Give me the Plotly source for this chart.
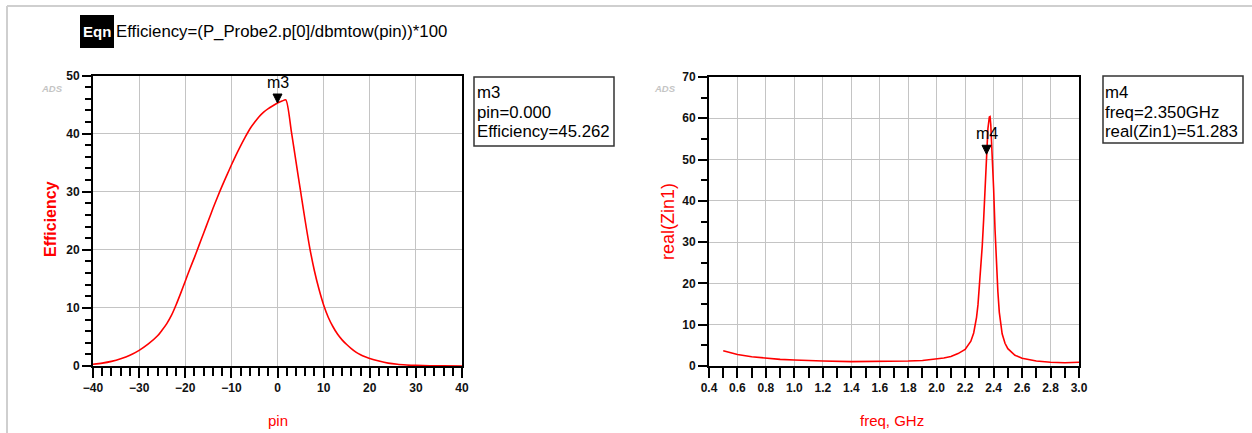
import plotly.graph_objects as go

W, H = 1252, 433

# ---------------- data ----------------
pin = [-40, -38, -36, -34, -32, -30, -28, -26, -25, -24, -23, -22, -21, -20, -19, -18, -17,
       -16, -15, -14, -13, -12, -11, -10, -9, -8, -7, -6, -5, -4, -3, -2, -1, 0, 1, 1.8,
       3, 4, 5, 6, 7, 8, 9, 10, 11, 12, 13, 14, 15, 16, 17, 18, 19, 20, 22, 24, 26, 28,
       30, 33, 36, 40]
efficiency = [0.3, 0.5, 0.8, 1.25, 1.85, 2.7, 3.8, 5.2, 6.2, 7.3, 8.7, 10.5, 12.5, 14.6,
              16.7, 18.7, 20.8, 22.9, 25.0, 27.1, 29.1, 31.0, 32.8, 34.6, 36.3, 37.9, 39.4,
              40.8, 41.9, 42.9, 43.7, 44.3, 44.8, 45.262, 45.6, 45.8,
              40.4, 35.2, 30.1, 25.0, 20.3, 16.4, 13.2, 10.5, 8.4, 6.8, 5.5, 4.5, 3.7, 3.0,
              2.4, 1.95, 1.6, 1.3, 0.85, 0.5, 0.3, 0.18, 0.1, 0.05, 0.02, 0.01]

freq = [0.5, 0.6, 0.7, 0.8, 0.9, 1.0, 1.1, 1.2, 1.4, 1.6, 1.8, 1.9, 2.0, 2.05, 2.1, 2.15,
        2.2, 2.22, 2.24, 2.26, 2.27, 2.28, 2.29, 2.30, 2.31, 2.32, 2.33, 2.34, 2.35, 2.36,
        2.37, 2.375, 2.38, 2.39, 2.40, 2.41, 2.42, 2.43, 2.44, 2.45, 2.46, 2.48, 2.50,
        2.55, 2.60, 2.70, 2.80, 2.90, 3.00]
real_zin1 = [3.7, 2.8, 2.25, 1.85, 1.6, 1.45, 1.3, 1.2, 1.05, 1.05, 1.2, 1.35, 1.65, 1.95,
             2.3, 3.0, 4.0, 4.9, 6.0, 8.0, 9.6, 11.8, 14.8, 19.0, 23.5, 29.0, 35.5, 43.0,
             51.283, 57.5, 60.3, 60.4, 58.5, 52.0, 43.0, 33.0, 24.5, 18.0, 13.0, 9.8, 7.8,
             5.5, 4.2, 2.6, 1.9, 1.2, 0.9, 0.8, 0.9]

m3 = {"x": 0.0, "y": 45.262}
m4 = {"x": 2.35, "y": 51.283}
eqn_text = "Efficiency=(P_Probe2.p[0]/dbmtow(pin))*100"
m3_lines = ["m3", "pin=0.000", "Efficiency=45.262"]
m4_lines = ["m4", "freq=2.350GHz", "real(Zin1)=51.283"]


def px(x):
    return x / W


def py(y):
    return 1 - y / H


RED = "#ff0000"
FONT = "Liberation Sans, Arial, sans-serif"

fig = go.Figure()
fig.add_trace(go.Scatter(x=pin, y=efficiency, mode="lines",
                         line=dict(color=RED, width=1.6, shape="spline", smoothing=0.7),
                         xaxis="x", yaxis="y", showlegend=False, hoverinfo="skip"))
fig.add_trace(go.Scatter(x=freq, y=real_zin1, mode="lines", line=dict(color=RED, width=1.6),
                         xaxis="x2", yaxis="y2", showlegend=False, hoverinfo="skip"))

common = dict(showline=True, linecolor="black", linewidth=2, mirror=True,
              showgrid=True, gridcolor="#c4c4c4", gridwidth=1.3, zeroline=False,
              ticks="outside", tickcolor="black", tickwidth=1.5, automargin=False,
              tickfont=dict(family=FONT, size=12, color="#111", weight="bold"))

fig.update_layout(
    width=W, height=H, autosize=False,
    margin=dict(l=0, r=0, t=0, b=0),
    paper_bgcolor="white", plot_bgcolor="white",
    xaxis=dict(domain=[px(93), px(462)], range=[-40, 40], dtick=10, ticklen=10,
               minor=dict(dtick=2, ticks="outside", ticklen=8, tickcolor="black", tickwidth=1.5, showgrid=False),
               anchor="y", **common),
    yaxis=dict(domain=[py(366), py(75.5)], range=[0, 50], dtick=10, ticklen=9,
               minor=dict(dtick=2, ticks="outside", ticklen=6, tickcolor="black", tickwidth=1.5, showgrid=False),
               anchor="x", **common),
    xaxis2=dict(domain=[px(709), px(1079)], range=[0.4, 3.0], dtick=0.2, tick0=0.4, ticklen=10,
                tickformat=".1f",
                minor=dict(dtick=0.1, ticks="outside", ticklen=10, tickcolor="black", tickwidth=1.5, showgrid=False),
                anchor="y2", **common),
    yaxis2=dict(domain=[py(366), py(77)], range=[0, 70], dtick=10, ticklen=9,
                minor=dict(dtick=5, ticks="outside", ticklen=6, tickcolor="black", tickwidth=1.5, showgrid=False),
                anchor="x2", **common),
)

shapes = []
# outer frame lines
shapes.append(dict(type="line", xref="paper", yref="paper", x0=px(7), x1=1, y0=py(6), y1=py(6),
                   line=dict(color="#cfcfcf", width=2)))
shapes.append(dict(type="line", xref="paper", yref="paper", x0=px(7), x1=px(7), y0=py(6), y1=0,
                   line=dict(color="#cfcfcf", width=2)))
# Eqn black box
shapes.append(dict(type="rect", xref="paper", yref="paper", x0=px(80), x1=px(114), y0=py(48), y1=py(15),
                   fillcolor="black", line=dict(width=0)))
# marker boxes
shapes.append(dict(type="rect", xref="paper", yref="paper", x0=px(474), x1=px(614), y0=py(146), y1=py(77),
                   fillcolor="white", line=dict(color="#333", width=1.5)))
shapes.append(dict(type="rect", xref="paper", yref="paper", x0=px(1103), x1=px(1243), y0=py(143), y1=py(76),
                   fillcolor="white", line=dict(color="#333", width=1.5)))
# marker triangles
for m, xr, yr in [(m3, "x", "y"), (m4, "x2", "y2")]:
    shapes.append(dict(type="path", xref=xr, yref=yr, xsizemode="pixel", ysizemode="pixel",
                       xanchor=m["x"], yanchor=m["y"], path="M -4.5 9 L 4.5 9 L 0 0 Z",
                       fillcolor="black", line=dict(color="black", width=1)))
fig.update_layout(shapes=shapes)

ann = []
ann.append(dict(xref="paper", yref="paper", x=px(97), y=py(32), text="<b>Eqn</b>", showarrow=False,
                font=dict(family=FONT, size=15, color="white"), xanchor="center", yanchor="middle"))
ann.append(dict(xref="paper", yref="paper", x=px(114), y=py(32), text=eqn_text, showarrow=False,
                font=dict(family=FONT, size=16.8, color="black"), xanchor="left", yanchor="middle"))
for i, t in enumerate(m3_lines):
    ann.append(dict(xref="paper", yref="paper", x=px(475), y=py(93 + 19.5 * i), text=t, showarrow=False,
                    font=dict(family=FONT, size=16.8, color="black"), xanchor="left", yanchor="middle"))
for i, t in enumerate(m4_lines):
    ann.append(dict(xref="paper", yref="paper", x=px(1103), y=py(93 + 19.5 * i), text=t, showarrow=False,
                    font=dict(family=FONT, size=16.8, color="black"), xanchor="left", yanchor="middle"))
ann.append(dict(xref="x", yref="y", x=m3["x"], y=m3["y"], text="m3", showarrow=False, yshift=10,
                font=dict(family=FONT, size=16, color="black"), xanchor="center", yanchor="bottom"))
ann.append(dict(xref="x2", yref="y2", x=m4["x"], y=m4["y"], text="m4", showarrow=False, yshift=10,
                font=dict(family=FONT, size=16, color="black"), xanchor="center", yanchor="bottom"))
# axis titles
ann.append(dict(xref="paper", yref="paper", x=px(50), y=py(219), text="<b>Efficiency</b>", showarrow=False,
                textangle=-90, font=dict(family=FONT, size=16, color=RED), xanchor="center", yanchor="middle"))
ann.append(dict(xref="paper", yref="paper", x=px(668), y=py(222), text="real(Zin1)", showarrow=False,
                textangle=-90, font=dict(family=FONT, size=18, color=RED), xanchor="center", yanchor="middle"))
ann.append(dict(xref="paper", yref="paper", x=px(278), y=py(420), text="pin", showarrow=False,
                font=dict(family=FONT, size=15, color=RED), xanchor="center", yanchor="middle"))
ann.append(dict(xref="paper", yref="paper", x=px(892), y=py(420), text="freq, GHz", showarrow=False,
                font=dict(family=FONT, size=15, color=RED), xanchor="center", yanchor="middle"))
# ADS watermarks
for xw in (52, 665):
    ann.append(dict(xref="paper", yref="paper", x=px(xw), y=py(88), text="<i><b>ADS</b></i>", showarrow=False,
                    font=dict(family=FONT, size=9.5, color="#c4c4c4"), xanchor="center", yanchor="middle"))
fig.update_layout(annotations=ann)

fig.write_html("out.html", post_script="document.body.style.margin='0';document.body.style.overflow='hidden';")
